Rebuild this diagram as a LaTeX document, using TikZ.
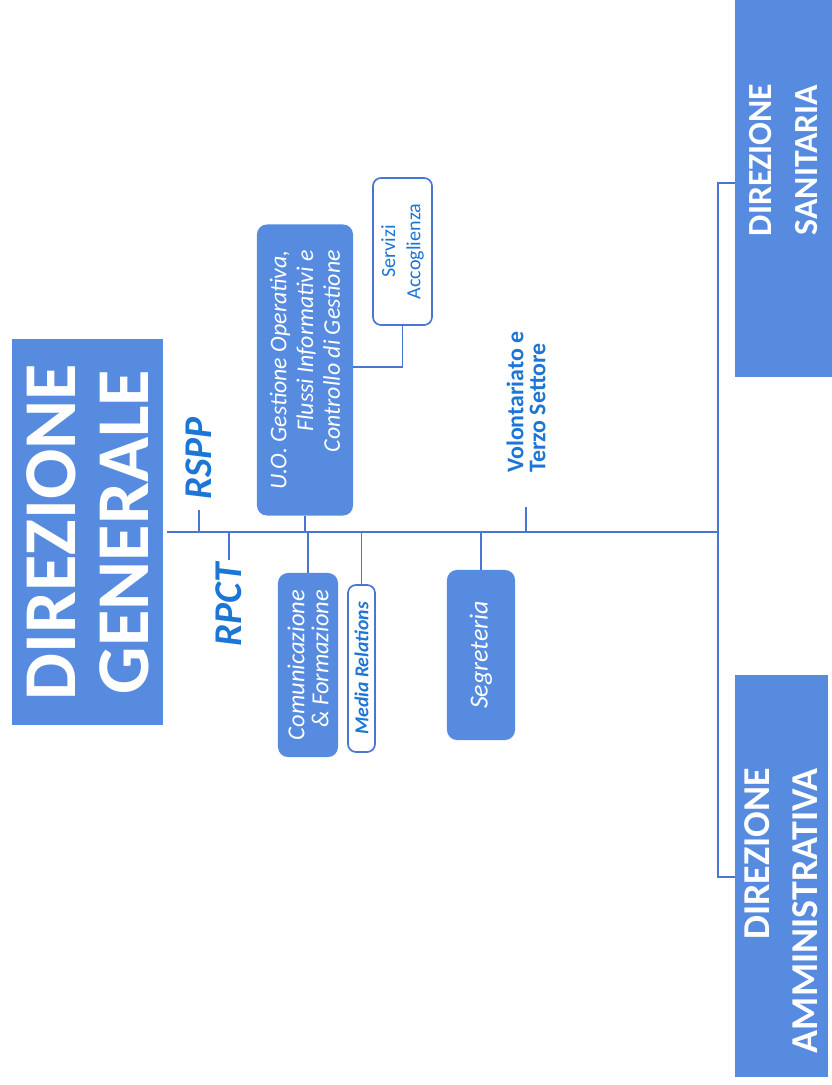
\documentclass[tikz,border=0pt]{standalone}
\usepackage{fontspec}
\setmainfont{Carlito}
\usepackage{tikz}
\usetikzlibrary{positioning}
\definecolor{boxblue}{RGB}{86,139,224}
\definecolor{linkblue}{RGB}{72,118,208}
\definecolor{txtblue}{RGB}{28,118,214}
\tikzstyle{bigbox} = [rectangle, fill=boxblue, text=white, align=center, rotate=90, inner sep=0pt]
\tikzstyle{unit} = [rectangle, rounded corners=0.25cm, fill=boxblue, text=white, rotate=90, align=right]
\tikzstyle{subunit} = [rectangle, rounded corners=0.2cm, draw=linkblue, line width=1.2pt, fill=white, text=txtblue, rotate=90, align=center, inner sep=1pt]
\tikzstyle{role} = [text=txtblue, rotate=90, inner sep=0pt]
\tikzstyle{link} = [draw=linkblue, line width=1.2pt]

\begin{document}
\begin{tikzpicture}[x=0.025cm, y=-0.025cm]
            \useasboundingbox (0,0) rectangle (832,1085);
            % 定义节点
            \node[bigbox, minimum width=9.625cm, minimum height=3.775cm, font=\bfseries\fontsize{53}{52}\selectfont] (gen) at (87.5,532) {DIREZIONE\\GENERALE};
            \node[bigbox, minimum width=10.85cm, minimum height=2.425cm, font=\bfseries\fontsize{24}{33}\selectfont] (san) at (783.5,160) {DIREZIONE\\SANITARIA};
            \node[bigbox, minimum width=10.05cm, minimum height=2.325cm] (amm) at (781.5,876) {};
            \node[bigbox, fill=none, anchor=east, align=right, font=\bfseries\fontsize{27}{34}\selectfont] (ammtext) at (781,768) {DIREZIONE\\AMMINISTRATIVA};

            \node[role, anchor=west, font=\bfseries\itshape\fontsize{28}{30}\selectfont] (rspp) at (199,500) {RSPP};
            \node[role, anchor=east, font=\bfseries\itshape\fontsize{28}{30}\selectfont] (rpct) at (229,563) {RPCT};

            \node[unit, minimum width=7.275cm, minimum height=2.4cm, font=\itshape\fontsize{17}{19}\selectfont] (uo) at (305,370) {U.O. Gestione Operativa,\\Flussi Informativi e\\Controllo di Gestione};
            \node[subunit, minimum width=3.675cm, minimum height=1.475cm, font=\fontsize{14.3}{18}\selectfont] (serv) at (402.5,251.5) {Servizi\\Accoglienza};
            \node[unit, minimum width=4.6cm, minimum height=1.5cm, font=\itshape\fontsize{17.4}{17}\selectfont] (com) at (308,665) {Comunicazione\\\& Formazione};
            \node[subunit, minimum width=4.175cm, minimum height=0.675cm, font=\bfseries\itshape\fontsize{14}{16}\selectfont] (media) at (361.5,668.5) {Media Relations};
            \node[unit, minimum width=4.25cm, minimum height=1.7cm, font=\itshape\fontsize{18.5}{18}\selectfont] (segr) at (481,655) {Segreteria};
            \node[role, anchor=west, align=left, font=\bfseries\fontsize{17}{15.6}\selectfont] (volo) at (526,473) {Volontariato e\\Terzo Settore};

            % 定义连线
            \coordinate (t1) at (718,532);
            \draw[link] (gen.south) ++(4,0) -- (t1);
            \draw[link] (t1) |- (san.north |- 0,183);
            \draw[link] (t1) |- (amm.north |- 0,877);

            \draw[link, shorten <=7pt] (rspp.west) -- (rspp.west |- t1);
            \draw[link, shorten <=2pt] (rpct.east) -- (rpct.east |- t1);
            \draw[link] (uo.west) -- (uo.west |- t1);
            \draw[link] (serv.west) |- (uo.south |- 0,367);
            \draw[link] (com.east) -- (com.east |- t1);
            \draw[link] (media.east) -- (media.east |- t1);
            \draw[link] (segr.east) -- (segr.east |- t1);
            \draw[link, shorten <=24pt] (volo.west) -- (volo.west |- t1);
        \end{tikzpicture}
\end{document}
